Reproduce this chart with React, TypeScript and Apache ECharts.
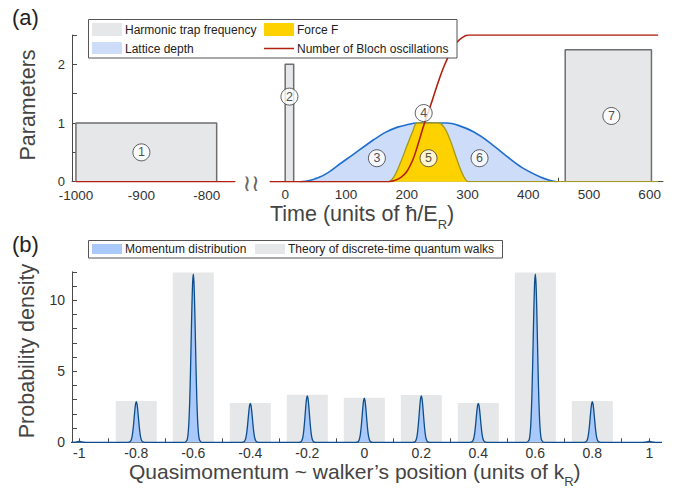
import React, { useEffect, useRef } from "react";
import * as echarts from "echarts";

// ---------- Panel (a) data ----------
const trapStart = [-1000, 0, 461];
const trapEnd = [-785, 14, 603];
const trapHeight = [1, 2, 2.25];
const trapPanel = [0, 1, 1];

const latticeTime = [25, 40, 55, 70, 91, 110, 130, 145, 165, 185, 200, 217, 266, 285, 310, 335, 365, 390, 420, 435, 447];
const latticeDepth = [0, 0.02, 0.07, 0.15, 0.31, 0.45, 0.6, 0.71, 0.84, 0.93, 0.97, 1, 1, 0.96, 0.85, 0.68, 0.43, 0.24, 0.08, 0.025, 0];

const forceTime = [-25, 170, 180, 190, 200, 210, 217, 252, 262, 272, 282, 292, 302, 614];
const forceValue = [0, 0, 0.1, 0.33, 0.6, 0.86, 1, 1, 0.92, 0.7, 0.4, 0.13, 0, 0];

const blochTimeLeft = [-1000, -757];
const blochCountLeft = [0, 0];
const blochTime = [-25, 170, 180, 190, 200, 210, 217, 230, 240, 252, 262, 272, 282, 292, 302, 614];
const blochCount = [0, 0, 0.02, 0.07, 0.17, 0.37, 0.58, 1.02, 1.32, 1.7, 1.98, 2.2, 2.37, 2.46, 2.5, 2.5];

const markerLabel = ["1", "2", "3", "4", "5", "6", "7"];
const markerTime = [-900, 7, 151, 228, 236, 320, 537];
const markerValue = [0.5, 1.45, 0.4, 1.17, 0.4, 0.4, 1.12];
const markerPanel = [0, 1, 1, 1, 1, 1, 1];

const leftTicks = [-1000, -950, -900, -850, -800];
const leftLabels = [-1000, -900, -800];
const rightTicks = [0, 50, 100, 150, 200, 250, 300, 350, 400, 450, 500, 550, 600];
const rightLabels = [0, 100, 200, 300, 400, 500, 600];
const paramLabels = [0, 1, 2];

// ---------- Panel (b) data ----------
const peakPosition = [-1, -0.8, -0.6, -0.4, -0.2, 0, 0.2, 0.4, 0.6, 0.8, 1];
const peakHeight = [0.06, 2.86, 11.83, 2.74, 3.26, 3.1, 3.26, 2.74, 11.83, 2.86, 0.06];
const profileOffset = [-0.03, -0.0225, -0.02, -0.0175, -0.015, -0.0125, -0.01, -0.0075, -0.005, -0.0025, 0, 0.0025, 0.005, 0.0075, 0.01, 0.0125, 0.015, 0.0175, 0.02, 0.0225, 0.03];
const profileShape = [0, 0.011, 0.028, 0.066, 0.135, 0.249, 0.41, 0.607, 0.8, 0.946, 1, 0.946, 0.8, 0.607, 0.41, 0.249, 0.135, 0.066, 0.028, 0.011, 0];

const theoryPosition = [-0.8, -0.6, -0.4, -0.2, 0, 0.2, 0.4, 0.6, 0.8];
const theoryHeight = [2.9, 11.95, 2.77, 3.35, 3.14, 3.33, 2.77, 11.95, 2.9];

const qTicks = [-1, -0.9, -0.8, -0.7, -0.6, -0.5, -0.4, -0.3, -0.2, -0.1, 0, 0.1, 0.2, 0.3, 0.4, 0.5, 0.6, 0.7, 0.8, 0.9, 1];
const qLabels = [-1, -0.8, -0.6, -0.4, -0.2, 0, 0.2, 0.4, 0.6, 0.8, 1];
const densityLabels = [0, 5, 10];

const FONT = "'Liberation Sans', Arial, Helvetica, sans-serif";
const AXIS = "#4a4a4a";
const TXT = "#333333";

function measure(text: string, size: number): number {
  const c = document.createElement("canvas").getContext("2d");
  if (!c) return text.length * size * 0.5;
  c.font = `${size}px 'Liberation Sans'`;
  return c.measureText(text).width;
}

function zip(xs: number[], ys: number[]) {
  return xs.map((x, i) => [x, ys[i]]);
}

function xAxisCfg(grid: number, min: number, max: number, ticks: number[], labels: number[], fs: number, margin: number) {
  return {
    type: "value",
    gridIndex: grid,
    min,
    max,
    splitLine: { show: false },
    axisLine: { show: true, onZero: false, lineStyle: { color: AXIS, width: 1 } },
    axisTick: { show: true, inside: true, length: 4, customValues: ticks, lineStyle: { color: AXIS } },
    axisLabel: {
      show: true,
      customValues: labels,
      formatter: (v: number) => String(v),
      margin,
      fontSize: fs,
      lineHeight: fs,
      color: TXT,
      fontFamily: FONT,
    },
  };
}

export default function App() {
  const ref = useRef<HTMLDivElement>(null);

  useEffect(() => {
    if (!ref.current) return;
    const chart = echarts.init(ref.current, undefined, { renderer: "svg" });

    const series: any[] = [];

    trapStart.forEach((s, i) => {
      const e = trapEnd[i];
      const h = trapHeight[i];
      series.push({
        type: "line",
        xAxisIndex: trapPanel[i],
        yAxisIndex: trapPanel[i],
        data: [[s, 0], [s, h], [e, h], [e, 0]],
        symbol: "none",
        lineStyle: { color: "#6d6e70", width: 1.5 },
        areaStyle: { color: "#e6e7e8", opacity: 1 },
        z: 1,
      });
    });

    series.push({
      type: "line",
      xAxisIndex: 1,
      yAxisIndex: 1,
      data: zip(latticeTime, latticeDepth),
      smooth: 0.35,
      symbol: "none",
      lineStyle: { color: "#1f6fd0", width: 1.6 },
      areaStyle: { color: "#cddcf8", opacity: 1 },
      z: 2,
    });

    series.push({
      type: "line",
      xAxisIndex: 1,
      yAxisIndex: 1,
      data: zip(forceTime, forceValue),
      smooth: 0.3,
      symbol: "none",
      lineStyle: { color: "#a0981f", width: 1.3 },
      areaStyle: { color: "#fed200", opacity: 1 },
      z: 3,
    });

    series.push({
      type: "line",
      xAxisIndex: 0,
      yAxisIndex: 0,
      data: zip(blochTimeLeft, blochCountLeft),
      symbol: "none",
      lineStyle: { color: "#b3200f", width: 1.6 },
      z: 4,
    });
    series.push({
      type: "line",
      xAxisIndex: 1,
      yAxisIndex: 1,
      data: zip(blochTime, blochCount),
      smooth: 0.3,
      symbol: "none",
      lineStyle: { color: "#b3200f", width: 1.6 },
      z: 4,
    });

    [0, 1].forEach((p) => {
      const pts = markerTime
        .map((t, i) => ({ value: [t, markerValue[i]], name: markerLabel[i], panel: markerPanel[i] }))
        .filter((d) => d.panel === p)
        .map((d) => ({ value: d.value, name: d.name }));
      series.push({
        type: "scatter",
        xAxisIndex: p,
        yAxisIndex: p,
        data: pts,
        symbol: "circle",
        symbolSize: 17,
        itemStyle: { color: "#ffffff", borderColor: "#3a3a3a", borderWidth: 1 },
        label: {
          show: true,
          position: "inside",
          formatter: (d: any) => d.name,
          fontSize: 12.5,
          color: "#222",
          fontFamily: FONT,
        },
        z: 6,
      });
    });

    // panel (b)
    series.push({
      type: "bar",
      xAxisIndex: 2,
      yAxisIndex: 2,
      data: zip(theoryPosition, theoryHeight),
      barWidth: 41,
      itemStyle: { color: "#e6e7e8" },
      z: 1,
    });

    const peakData: number[][] = [[-1.06, 0]];
    peakPosition.forEach((c, i) => {
      profileOffset.forEach((o, j) => {
        peakData.push([c + o, peakHeight[i] * profileShape[j]]);
      });
    });
    peakData.push([1.06, 0]);
    series.push({
      type: "line",
      xAxisIndex: 2,
      yAxisIndex: 2,
      data: peakData,
      smooth: 0.2,
      symbol: "none",
      lineStyle: { color: "#0c4d8c", width: 1.3 },
      areaStyle: { color: "#a9c9fa", opacity: 1 },
      z: 2,
    });

    const t1Main = "Time (units of ħ/E";
    const t1x = 270;
    const t1w = measure(t1Main, 21.5);
    const t1Sub = "R";
    const t1sw = measure(t1Sub, 13);

    const t2Size = 21;
    const t2Main = "Quasimomentum ~ walker’s position (units of k";
    const t2x = 129;
    const t2w = measure(t2Main, t2Size);
    const t2sw = measure("R", 13);

    const txt = (x: number, y: number, text: string, size: number, extra: any = {}) => ({
      type: "text",
      x,
      y,
      z: 100,
      style: {
        text,
        fontSize: size,
        fontFamily: FONT,
        fill: extra.fill || "#222",
        textAlign: extra.align || "left",
        align: extra.align || "left",
        textVerticalAlign: "middle",
        verticalAlign: "middle",
      },
      rotation: extra.rotation || 0,
    });

    const graphic: any[] = [
      txt(12, 17, "(a)", 22, { fill: "#222" }),
      txt(12, 244, "(b)", 22, { fill: "#222" }),
      txt(28, 105, "Parameters", 21.5, { align: "center", rotation: Math.PI / 2, fill: "#444" }),
      txt(27, 351, "Probability density", 21.5, { align: "center", rotation: Math.PI / 2, fill: "#444" }),
      txt(t1x, 213.5, t1Main, 21.5, { fill: "#444" }),
      txt(t1x + t1w, 224, t1Sub, 13, { fill: "#444" }),
      txt(t1x + t1w + t1sw, 213.5, ")", 21.5, { fill: "#444" }),
      txt(t2x, 471.5, t2Main, t2Size, { fill: "#444" }),
      txt(t2x + t2w, 481.5, "R", 13, { fill: "#444" }),
      txt(t2x + t2w + t2sw, 471.5, ")", t2Size, { fill: "#444" }),
      {
        type: "text",
        x: 251,
        y: 183,
        z: 100,
        style: {
          text: "≀≀",
          fontSize: 23,
          fontFamily: "'DejaVu Sans'",
          fill: "#666",
          textAlign: "center",
          align: "center",
          textVerticalAlign: "middle",
          verticalAlign: "middle",
        },
      },
      // legend (a)
      {
        type: "rect",
        z: 90,
        shape: { x: 88.5, y: 19.5, width: 368.5, height: 38.5 },
        style: { fill: "#ffffff", stroke: "#555", lineWidth: 1 },
      },
      { type: "rect", z: 91, shape: { x: 92, y: 23, width: 30, height: 13 }, style: { fill: "#e6e7e8" } },
      txt(125, 29.5, "Harmonic trap frequency", 12),
      { type: "rect", z: 91, shape: { x: 264, y: 23, width: 30, height: 13 }, style: { fill: "#fed200" } },
      txt(297, 29.5, "Force F", 12),
      { type: "rect", z: 91, shape: { x: 92, y: 42, width: 30, height: 12 }, style: { fill: "#cddcf8" } },
      txt(125, 48.5, "Lattice depth", 12),
      {
        type: "line",
        z: 91,
        shape: { x1: 264, y1: 48.5, x2: 294, y2: 48.5 },
        style: { stroke: "#b3200f", lineWidth: 1.5 },
      },
      txt(297, 48.5, "Number of Bloch oscillations", 12),
      // legend (b)
      {
        type: "rect",
        z: 90,
        shape: { x: 88.5, y: 240.5, width: 414, height: 17.5 },
        style: { fill: "#ffffff", stroke: "#555", lineWidth: 1 },
      },
      { type: "rect", z: 91, shape: { x: 92, y: 244, width: 30, height: 10 }, style: { fill: "#a9c9fa" } },
      txt(125, 249.3, "Momentum distribution", 12),
      { type: "rect", z: 91, shape: { x: 255, y: 244, width: 30, height: 10 }, style: { fill: "#e6e7e8" } },
      txt(288, 249.3, "Theory of discrete-time quantum walks", 12),
    ];

    const yCommon = {
      type: "value",
      splitLine: { show: false },
      axisLine: { show: true, onZero: false, lineStyle: { color: AXIS, width: 1 } },
      axisTick: { show: true, inside: true, length: 5, lineStyle: { color: AXIS } },
    };

    const option: any = {
      animation: false,
      backgroundColor: "#ffffff",
      textStyle: { fontFamily: FONT },
      grid: [
        { left: 72, top: 35, width: 163, height: 146.7 },
        { left: 270, top: 35, width: 393, height: 146.7 },
        { left: 72, top: 271.8, width: 588, height: 170.5 },
      ],
      xAxis: [
        xAxisCfg(0, -1006, -757, leftTicks, leftLabels, 13.5, 7.5),
        xAxisCfg(1, -25, 622, rightTicks, rightLabels, 13.5, 6),
        xAxisCfg(2, -1.0256, 1.0375, qTicks, qLabels, 14, 4),
      ],
      yAxis: [
        {
          ...yCommon,
          gridIndex: 0,
          min: 0,
          max: 2.5,
          interval: 0.5,
          axisLabel: { customValues: paramLabels, margin: 7, fontSize: 13, lineHeight: 11, color: TXT, fontFamily: FONT },
        },
        {
          type: "value",
          gridIndex: 1,
          min: 0,
          max: 2.5,
          show: false,
          splitLine: { show: false },
        },
        {
          ...yCommon,
          gridIndex: 2,
          min: 0,
          max: 12,
          interval: 1,
          axisLabel: { customValues: densityLabels, margin: 7, fontSize: 14, lineHeight: 12, color: TXT, fontFamily: FONT },
        },
      ],
      series,
      graphic,
    };

    chart.setOption(option);
    return () => chart.dispose();
  }, []);

  return (
    <div
      ref={ref}
      style={{ position: "absolute", left: 0, top: 0, width: 685, height: 494, background: "#fff" }}
    />
  );
}
